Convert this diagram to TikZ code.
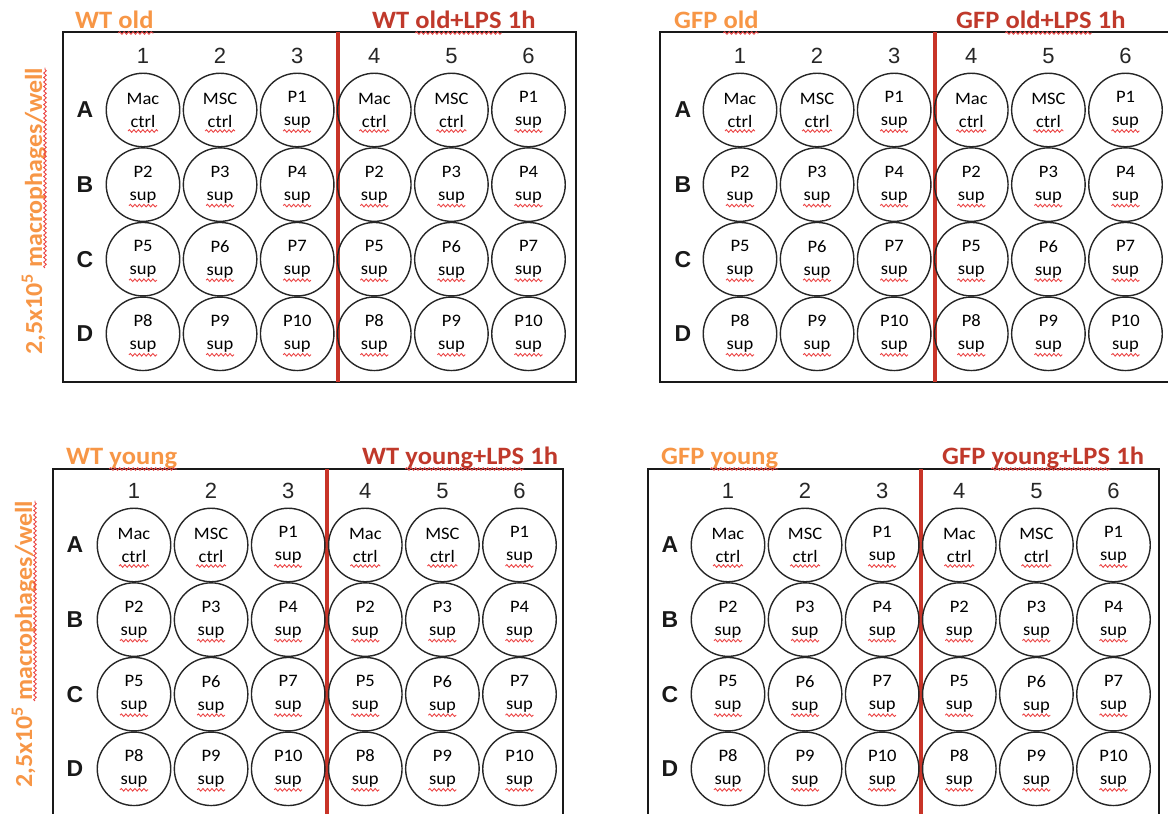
\documentclass[tikz,border=0pt]{standalone}
\usepackage{fontspec}
\setmainfont{Carlito}[FakeStretch=1.06]
\newfontfamily\arialf{Liberation Sans}
\usetikzlibrary{decorations.pathmorphing,calc}
\definecolor{orng}{RGB}{247,150,70}
\definecolor{dred}{RGB}{192,57,43}
\definecolor{redline}{RGB}{200,52,40}
\definecolor{squigred}{RGB}{235,70,70}
\begin{document}
\begin{tikzpicture}[x=1pt,y=-1pt,
  well/.style={circle, draw=black!85, line width=1.4pt, minimum size=73.5pt, inner sep=0pt, align=center, font=\fontsize{17.5}{23}\selectfont},
  colnum/.style={font=\arialf\fontsize{22}{22}\selectfont, inner sep=0pt, text=black!85},
  rowlab/.style={font=\arialf\bfseries\fontsize{23}{23}\selectfont, inner sep=0pt, text=black!90},
  platebox/.style={draw=black!90, line width=1.5pt},
  divider/.style={draw=redline, line width=4pt},
  squig/.style={draw=squigred, line width=0.9pt, decorate, decoration={snake, segment length=4.5pt, amplitude=1.3pt}},
  ttl/.style={font=\bfseries\fontsize{25}{25}\selectfont, inner sep=0pt, anchor=base west},
  vlab/.style={font=\bfseries\fontsize{24.5}{24.5}\selectfont, inner sep=0pt, anchor=base west, rotate=90, text=orng},
]
\useasboundingbox (0,0) rectangle (1168,814);
\clip (0,0) rectangle (1168,814);

% plate boxes
\draw[platebox] (63,32) rectangle (576,382);
\draw[platebox] (1170,32) -- (660,32) -- (660,382) -- (1170,382);
\draw[platebox] (53,816) -- (53,469) -- (563,469) -- (563,816);
\draw[platebox] (648,816) -- (648,469) -- (1159,469) -- (1159,816);

% red dividers
\draw[divider] (338,32) -- (338,382);
\draw[divider] (935,32) -- (935,382);
\draw[divider] (327,469) -- (327,816);
\draw[divider] (921,469) -- (921,816);

% plates
\foreach \p/\cx/\ry/\lx/\ny in {TL/143/110/85/56, TR/740/110/683/56, BL/134/545/75/491, BR/728/545/670/491}{
  \foreach \c in {1,...,6}{
    \node[colnum] (\p-n\c) at ({\cx+(\c-1)*77.1},\ny) {\c};
  }
  \foreach \r/\ri/\ta/\sa/\wa/\tb/\sb/\wb/\tc/\sc/\wc in {
      A/0/Mac/ctrl/30/MSC/ctrl/30/P1/sup/28,
      B/1/P2/sup/28/P3/sup/28/P4/sup/28,
      C/2/P5/sup/28/P6/sup/28/P7/sup/28,
      D/3/P8/sup/28/P9/sup/28/P10/sup/28}{
    \node[rowlab] (\p-l\r) at (\lx,{\ry+\ri*74.6}) {\r};
    \foreach \c/\t/\s/\w in {1/\ta/\sa/\wa, 2/\tb/\sb/\wb, 3/\tc/\sc/\wc, 4/\ta/\sa/\wa, 5/\tb/\sb/\wb, 6/\tc/\sc/\wc}{
      \node[well] (\p-\r\c) at ({\cx+(\c-1)*77.1},{\ry+\ri*74.6}) {\t\\\s};
      \draw[squig] ($(\p-\r\c.center)+({-\w/2},21)$) -- ($(\p-\r\c.center)+({\w/2},21)$);
    }
  }
}

% titles
\node[ttl, text=orng] (t1a) at (75,28) {WT\kern.23em};
\node[ttl, text=orng] (t1b) at (t1a.base east) {old};
\draw[squig] ($(t1b.base west)+(0,5)$) -- ($(t1b.base east)+(0,5)$);

\node[ttl, text=dred] (t2a) at (372,28) {WT\kern.23em};
\node[ttl, text=dred] (t2b) at (t2a.base east) {old+LPS};
\node[ttl, text=dred] (t2c) at (t2b.base east) {\ 1h};
\draw[squig] ($(t2b.base west)+(0,5)$) -- ($(t2b.base east)+(0,5)$);

\node[ttl, text=orng] (t3a) at (674,28) {GFP\kern.23em};
\node[ttl, text=orng] (t3b) at (t3a.base east) {old};
\draw[squig] ($(t3b.base west)+(0,5)$) -- ($(t3b.base east)+(0,5)$);

\node[ttl, text=dred] (t4a) at (956,28) {GFP\kern.23em};
\node[ttl, text=dred] (t4b) at (t4a.base east) {old+LPS};
\node[ttl, text=dred] (t4c) at (t4b.base east) {\ 1h};
\draw[squig] ($(t4b.base west)+(0,5)$) -- ($(t4b.base east)+(0,5)$);

\node[ttl, text=orng] (t5a) at (66,464) {WT\kern.23em};
\node[ttl, text=orng] (t5b) at (t5a.base east) {young};
\draw[squig] ($(t5b.base west)+(0,5)$) -- ($(t5b.base east)+(0,5)$);

\node[ttl, text=dred] (t6a) at (362,464) {WT\kern.23em};
\node[ttl, text=dred] (t6b) at (t6a.base east) {young+LPS};
\node[ttl, text=dred] (t6c) at (t6b.base east) {\ 1h};
\draw[squig] ($(t6b.base west)+(0,5)$) -- ($(t6b.base east)+(0,5)$);

\node[ttl, text=orng] (t7a) at (661,464) {GFP\kern.23em};
\node[ttl, text=orng] (t7b) at (t7a.base east) {young};
\draw[squig] ($(t7b.base west)+(0,5)$) -- ($(t7b.base east)+(0,5)$);

\node[ttl, text=dred] (t8a) at (942,464) {GFP\kern.23em};
\node[ttl, text=dred] (t8b) at (t8a.base east) {young+LPS};
\node[ttl, text=dred] (t8c) at (t8b.base east) {\ 1h};
\draw[squig] ($(t8b.base west)+(0,5)$) -- ($(t8b.base east)+(0,5)$);

% vertical labels
\node[vlab] (v1a) at (42,355) {2,5x10\textsuperscript{5}\kern.23em};
\node[vlab] (v1b) at (v1a.base east) {macrophages/well};
\draw[squig] ($(v1b.base west)+(3,0)$) -- ($(v1b.base east)+(3,0)$);

\node[vlab] (v2a) at (32,788) {2,5x10\textsuperscript{5}\kern.23em};
\node[vlab] (v2b) at (v2a.base east) {macrophages/well};
\draw[squig] ($(v2b.base west)+(3,0)$) -- ($(v2b.base east)+(3,0)$);
\end{tikzpicture}
\end{document}
